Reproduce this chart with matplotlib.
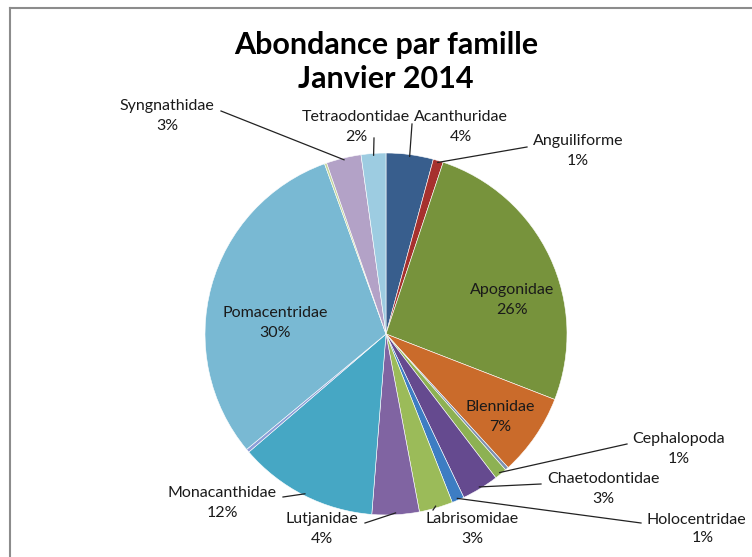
import numpy as np
import matplotlib
matplotlib.use("Agg")
import matplotlib.pyplot as plt
from matplotlib.lines import Line2D

# data (share of total, %)
families = ["Acanthuridae", "Anguiliforme", "Apogonidae", "Blennidae", "",
            "Cephalopoda", "Chaetodontidae", "Holocentridae", "Labrisomidae",
            "Lutjanidae", "Monacanthidae", "", "Pomacentridae", "",
            "Syngnathidae", "Tetraodontidae"]
values = [4.2, 0.9, 25.7, 7.3, 0.3, 1.1, 3.3, 1.1, 3.0, 4.2, 12.4, 0.3,
          30.4, 0.2, 3.1, 2.2]
colors = ["#385E8D", "#A6312E", "#77933C", "#CA6B2B", "#7D8FB0", "#8DB153",
          "#654A8F", "#3D7DC3", "#9BBB59", "#8064A2", "#46A7C4", "#8C9ED8",
          "#79B9D3", "#C3D69B", "#B3A2C7", "#9DCCE1"]

# label layout in pixels: (text x, text y, elbow x, elbow y, align) ; None -> inside slice
C_X, C_Y, R_PX = 386, 334, 181
layout = {
    "Acanthuridae": (461, 127, 412, 124, "center"),
    "Anguiliforme": (578, 151, 527, 147, "center"),
    "Apogonidae": None,
    "Blennidae": None,
    "Cephalopoda": (679, 449, 627, 444, "center"),
    "Chaetodontidae": (603, 489, 541, 484, "center"),
    "Holocentridae": (646, 529, 641, 523, "left"),
    "Labrisomidae": (472, 529, 433, 510, "center"),
    "Lutjanidae": (322, 529, 365, 523, "center"),
    "Monacanthidae": (222, 503, 283, 497, "center"),
    "Pomacentridae": None,
    "Syngnathidae": (167, 116, 221, 111, "center"),
    "Tetraodontidae": (356, 127, 374, 138, "center"),
}
inside = {"Apogonidae": (512, 300), "Blennidae": (500, 417),
          "Pomacentridae": (275, 323)}

FS = 11.5
LS = 1.5


def px(x, y):
    return (x - C_X) / R_PX, (C_Y - y) / R_PX


plt.rcParams["font.family"] = ["Lato", "DejaVu Sans"]
fig = plt.figure(figsize=(7.52, 5.57), dpi=100)
ax = fig.add_axes([0, 0, 1, 1])

wedges, _ = ax.pie(values, colors=colors, startangle=90, counterclock=False,
                   radius=1, center=(0, 0),
                   wedgeprops=dict(edgecolor="white", linewidth=0.4))
ax.set_aspect("auto")
ax.set_xlim(-C_X / R_PX, (752 - C_X) / R_PX)
ax.set_ylim((C_Y - 557) / R_PX, C_Y / R_PX)
ax.axis("off")

total = sum(values)
for w, name, v in zip(wedges, families, values):
    if not name:
        continue
    pct = "{:d}%".format(int(round(v / total * 100)))
    if layout[name] is None:
        tx, ty = px(*inside[name])
        ax.text(tx, ty, name + "\n" + pct, ha="center", va="center",
                fontsize=FS, color="#1a1a1a", linespacing=LS)
        continue
    tx_p, ty_p, ex_p, ey_p, al = layout[name]
    ang = np.deg2rad((w.theta1 + w.theta2) / 2)
    sx, sy = 0.99 * np.cos(ang), 0.99 * np.sin(ang)
    ex, ey = px(ex_p, ey_p)
    ax.plot([sx, ex], [sy, ey], color="#222222", lw=0.9)
    tx, ty = px(tx_p, ty_p)
    if al == "left":
        ax.text(tx, ty + 2 / R_PX, name, ha="left", va="bottom", fontsize=FS,
                color="#1a1a1a")
        ax.text(tx + 57 / R_PX, ty - 2 / R_PX, pct, ha="center", va="top",
                fontsize=FS, color="#1a1a1a")
    else:
        ax.text(tx, ty, name + "\n" + pct, ha="center", va="center",
                fontsize=FS, color="#1a1a1a", linespacing=LS)

fig.text(386 / 752, 1 - 62 / 557, "Abondance par famille\nJanvier 2014",
         ha="center", va="center", fontsize=22, fontweight="bold",
         linespacing=1.3)

# chart frame
fig.add_artist(Line2D([10 / 752, 1], [1 - 8 / 557] * 2, color="#8c8c8c", lw=1.5))
fig.add_artist(Line2D([10 / 752] * 2, [0, 1 - 8 / 557], color="#8c8c8c", lw=1.5))

fig.savefig("out.png", dpi=100)
